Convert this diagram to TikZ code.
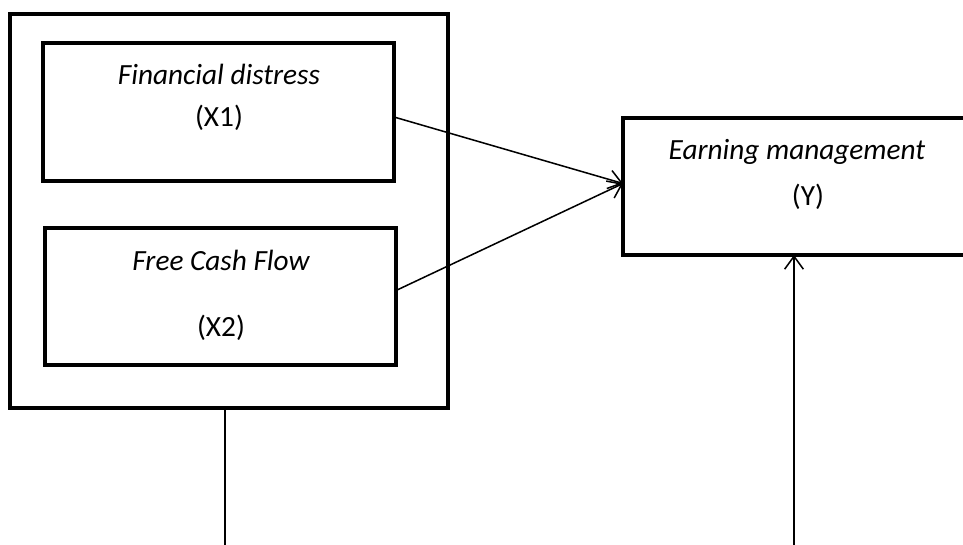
\documentclass[tikz,border=0pt]{standalone}
\usepackage{fontspec}
\setmainfont{Carlito}
\usetikzlibrary{positioning, arrows.meta, calc}

\begin{document}
\begin{tikzpicture}[
    x=0.03cm, y=-0.03cm,
    frame/.style={rectangle, draw=black, line width=3.4pt, outer sep=0pt},
    varbox/.style={frame, minimum width=10.53cm, minimum height=4.12cm},
    title/.style={font=\fontsize{25}{30}\selectfont\itshape, inner sep=0pt},
    code/.style={font=\fontsize{25}{30}\selectfont, inner sep=0pt},
    link/.style={line width=1.3pt},
    arrow/.style={link, -{Straight Barb[length=11pt, width=16pt, line width=1.3pt]}}
  ]
    \useasboundingbox (0,0) rectangle (963,545);
    \clip (0,0) rectangle (963,545);

    % Independent variables
    \node[frame, minimum width=13.14cm, minimum height=11.82cm] (indep) at (229, 211) {};
    \node[varbox] (x1) at (218.5, 112) {};
    \node[varbox] (x2) at (220.5, 296.5) {};
    \node[title] (x1t) at (219, 74) {Financial distress};
    \node[code] (x1c) at (219, 118) {(X1)};
    \node[title] (x2t) at (221, 260) {Free Cash Flow};
    \node[code] (x2c) at (221, 328) {(X2)};

    % Dependent variable
    \node[frame, minimum width=11.31cm, minimum height=4.11cm] (y) at (811.5, 186.5) {};
    \node[title] (yt) at (797, 152) {Earning management};
    \node[code] (yc) at (808, 197) {(Y)};

    % Arrows
    \draw[arrow] ($(x1.east)+(0,5)$) -- ($(y.west)+(0,-3)$);
    \draw[arrow] ($(x2.east)+(0,-6)$) -- ($(y.west)+(0,-3)$);

    % Lines to the bottom
    \coordinate (p1) at (225, 545);
    \coordinate (p2) at (794, 545);
    \draw[link] (indep.south -| p1) -- (p1);
    \draw[arrow] (p2) -- (y.south -| p2);
  \end{tikzpicture}
\end{document}
